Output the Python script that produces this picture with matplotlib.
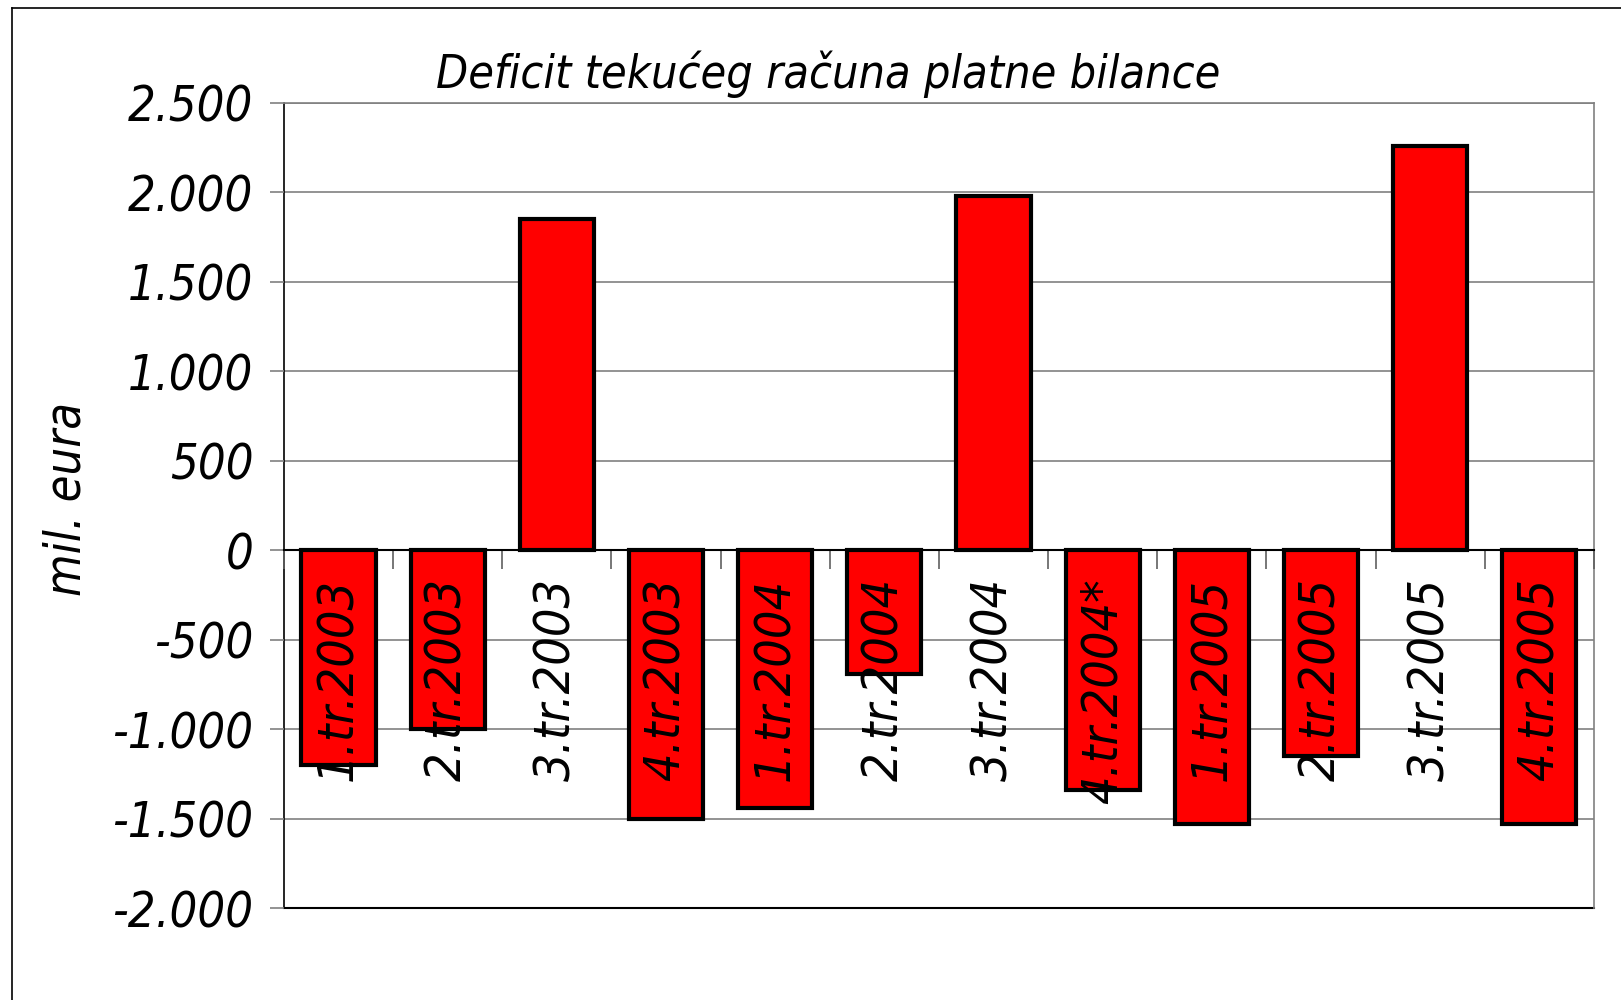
import matplotlib
matplotlib.use("Agg")
import matplotlib.pyplot as plt
from matplotlib.lines import Line2D
import numpy as np

categories = ["1.tr.2003", "2.tr.2003", "3.tr.2003", "4.tr.2003",
              "1.tr.2004", "2.tr.2004", "3.tr.2004", "4.tr.2004*",
              "1.tr.2005", "2.tr.2005", "3.tr.2005", "4.tr.2005"]
values = [-1200, -1000, 1850, -1500, -1440, -690, 1980, -1340, -1530, -1150, 2260, -1530]
ytick_values = [-2000, -1500, -1000, -500, 0, 500, 1000, 1500, 2000, 2500]
ytick_labels = ["-2.000", "-1.500", "-1.000", "-500", "0", "500", "1.000", "1.500", "2.000", "2.500"]
title = "Deficit tekućeg računa platne bilance"
ylabel = "mil. eura"

font = dict(family="DejaVu Sans", style="italic", stretch="condensed")

fig = plt.figure(figsize=(16.21, 10), dpi=100)
ax = fig.add_axes([0.1752, 0.092, 0.8081, 0.805])

x = np.arange(len(categories))
ax.bar(x, values, width=0.68, color="#ff0000", edgecolor="black", linewidth=3, zorder=2)

ax.set_xlim(-0.5, len(categories) - 0.5)
ax.set_ylim(-2000, 2500)

ax.set_yticks(ytick_values)
ax.set_yticklabels(ytick_labels, fontdict=dict(size=35, **font))
# gridlines drawn below bars
for v in ytick_values:
    if v != 0:
        ax.axhline(v, color="#808080", linewidth=1.2, zorder=0.5)
ax.set_axisbelow(False)
ax.tick_params(axis="y", length=10, width=1.2, color="#808080", pad=12)

# x axis crossing at zero
ax.spines["bottom"].set_position(("data", 0))
ax.spines["bottom"].set_color("black")
ax.spines["bottom"].set_linewidth(1.5)
ax.spines["bottom"].set_zorder(3)
ax.set_xticks(x)
ax.set_xticklabels(categories, rotation=90, fontdict=dict(size=36, **font))
ax.set_xticks(np.arange(len(categories) + 1) - 0.5, minor=True)
ax.tick_params(axis="x", which="major", length=0, pad=20)
ax.tick_params(axis="x", which="minor", length=14, width=1.2, direction="out", color="#606060")

# frame around plot area
for s in ["top", "right"]:
    ax.spines[s].set_color("#808080")
    ax.spines[s].set_linewidth(1.2)
ax.spines["left"].set_color("black")
ax.spines["left"].set_linewidth(1.2)
ax.axhline(-2000, color="black", linewidth=1.5, zorder=1, clip_on=False)

ax.set_ylabel(ylabel, fontdict=dict(size=35, **font))
ax.yaxis.set_label_coords(-0.148, 0.508)
fig.text(0.511, 0.926, title, ha="center", va="center", fontsize=33.5, **font)

# outer chart border (left and top)
fig.add_artist(Line2D([0.0077, 0.0077], [0.0, 0.992], color="black", linewidth=1.2, transform=fig.transFigure))
fig.add_artist(Line2D([0.0077, 1.0], [0.992, 0.992], color="black", linewidth=1.2, transform=fig.transFigure))

fig.savefig("out.png", dpi=100)
